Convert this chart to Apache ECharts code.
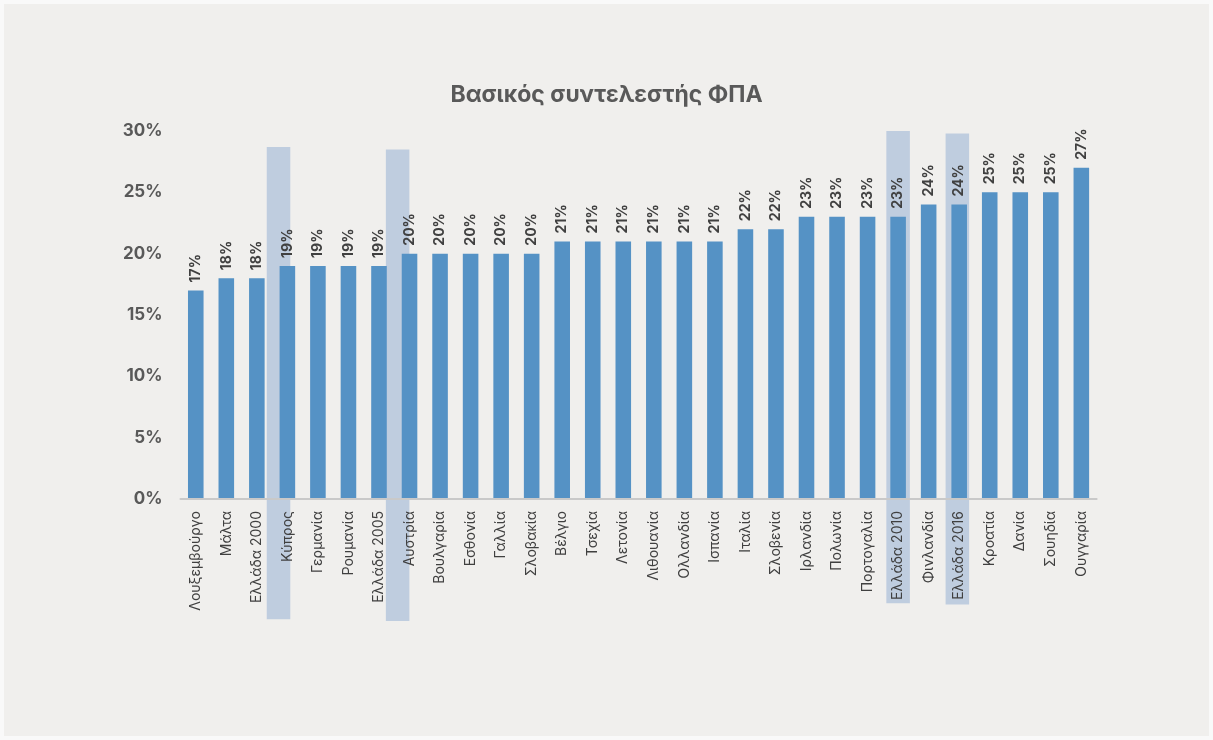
<!DOCTYPE html>
<html>
<head>
<meta charset="utf-8">
<script src="https://cdn.jsdelivr.net/npm/echarts@6/dist/echarts.min.js"></script>
<style>
  html, body { margin: 0; padding: 0; background: #f9f9f9; }
  #chart { position: absolute; left: 4px; top: 4px; width: 1205px; height: 732px; }
</style>
</head>
<body>
<div id="chart"></div>
<script>
// Standard VAT rate by country (%)
const countries = [
  'Λουξεμβούργο', 'Μάλτα', 'Ελλάδα 2000', 'Κύπρος', 'Γερμανία', 'Ρουμανία',
  'Ελλάδα 2005', 'Αυστρία', 'Βουλγαρία', 'Εσθονία', 'Γαλλία', 'Σλοβακία',
  'Βέλγιο', 'Τσεχία', 'Λετονία', 'Λιθουανία', 'Ολλανδία', 'Ισπανία',
  'Ιταλία', 'Σλοβενία', 'Ιρλανδία', 'Πολωνία', 'Πορτογαλία', 'Ελλάδα 2010',
  'Φινλανδία', 'Ελλάδα 2016', 'Κροατία', 'Δανία', 'Σουηδία', 'Ουγγαρία'
];
const vatRates = [
  17, 18, 18, 19, 19, 19,
  19, 20, 20, 20, 20, 20,
  21, 21, 21, 21, 21, 21,
  22, 22, 23, 23, 23, 23,
  24, 24, 25, 25, 25, 27
];
const yTicks = [0, 5, 10, 15, 20, 25, 30];

// Highlighted categories, with the value span each highlight band covers
const highlightCats = ['Κύπρος', 'Αυστρία', 'Ελλάδα 2010', 'Ελλάδα 2016'];
const highlightTop = [28.7, 28.5, 30, 29.8];
const highlightBottom = [-9.8, -9.95, -8.5, -8.6];

// Horizontal nudge of each band, as a fraction of the category width
const HIGHLIGHT_NUDGE = [-0.29, -0.39, 0, -0.06];
const HIGHLIGHT_WIDTH = 0.77;

const FONT = 'Inter, "Noto Sans", sans-serif';

const highlightData = highlightCats.map((c, i) => [countries.indexOf(c), highlightTop[i], highlightBottom[i], i]);

const chart = echarts.init(document.getElementById('chart'), null, { renderer: 'canvas' });
chart.setOption({
  backgroundColor: '#f0efed',
  animation: false,
  title: {
    text: 'Βασικός συντελεστής ΦΠΑ',
    left: 'center',
    top: 75,
    textStyle: { fontFamily: FONT, fontSize: 23, fontWeight: 'bold', color: '#595959' }
  },
  grid: { left: 176.5, right: 112.4, top: 127, bottom: 237, containLabel: false },
  xAxis: {
    type: 'category',
    data: countries,
    axisLine: { show: true, lineStyle: { color: '#c9c9c9', width: 2 } },
    axisTick: { show: false },
    axisLabel: {
      interval: 0,
      rotate: 90,
      margin: 12,
      fontFamily: FONT,
      fontSize: 14,
      color: '#404040'
    },
    z: 5
  },
  yAxis: {
    type: 'value',
    min: yTicks[0],
    max: yTicks[yTicks.length - 1],
    interval: 5,
    axisLine: { show: false },
    axisTick: { show: false },
    splitLine: { show: false },
    axisLabel: {
      margin: 18,
      fontFamily: FONT,
      fontSize: 17,
      fontWeight: 'bold',
      color: '#595959',
      formatter: v => v + '%'
    }
  },
  series: [
    {
      type: 'custom',
      z: 1,
      clip: false,
      silent: true,
      data: highlightData,
      encode: { x: 0, y: [1, 2] },
      renderItem: (params, api) => {
        const idx = api.value(0);
        const top = api.coord([idx, api.value(1)]);
        const bottom = api.coord([idx, api.value(2)]);
        const band = api.size([1, 0])[0];
        const w = band * HIGHLIGHT_WIDTH;
        const cx = top[0] + band * HIGHLIGHT_NUDGE[api.value(3)];
        return {
          type: 'rect',
          shape: { x: cx - w / 2, y: top[1], width: w, height: bottom[1] - top[1] },
          style: { fill: '#bfcddf' }
        };
      }
    },
    {
      type: 'bar',
      z: 3,
      data: vatRates,
      barWidth: '51%',
      itemStyle: { color: '#5592c5' },
      label: {
        show: true,
        position: 'top',
        rotate: 90,
        align: 'left',
        verticalAlign: 'middle',
        distance: 8,
        fontFamily: FONT,
        fontSize: 14,
        fontWeight: 'bold',
        color: '#404040',
        formatter: p => p.value + '%'
      }
    }
  ]
});
</script>
</body>
</html>
